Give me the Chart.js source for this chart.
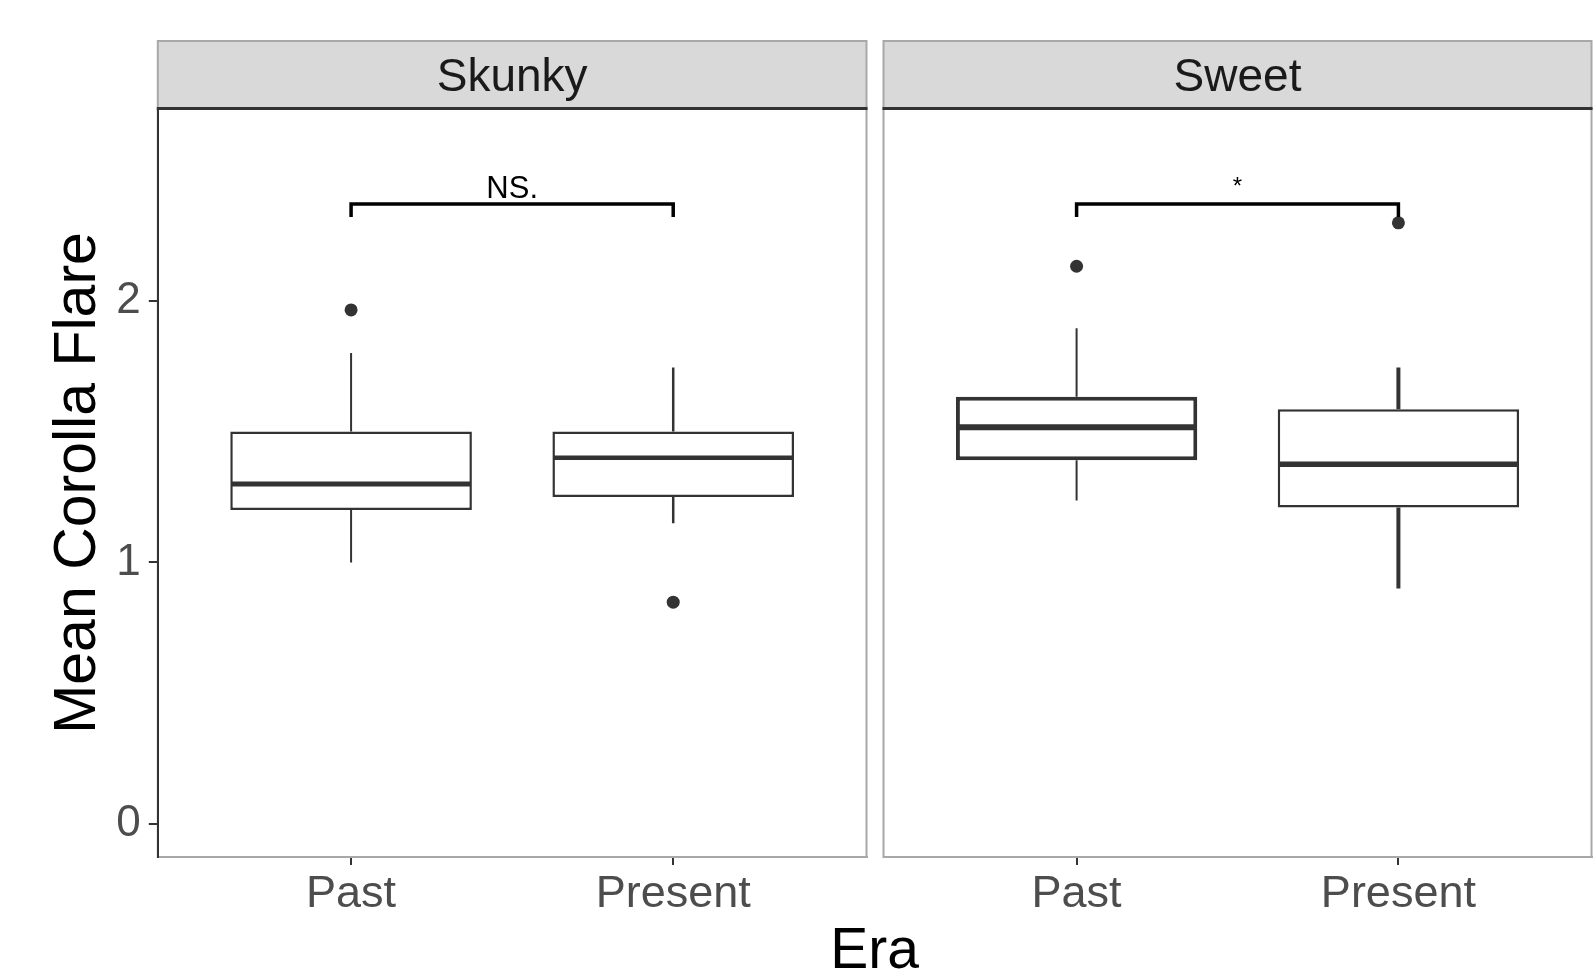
<!DOCTYPE html>
<html>
<head>
<meta charset="utf-8">
<script src="https://cdn.jsdelivr.net/npm/chart.js@4"></script>
<style>
  html, body { margin: 0; padding: 0; background: #ffffff; }
  #wrap { position: relative; width: 1596px; height: 970px; overflow: hidden; }
  canvas { position: absolute; top: 0; }
  #era { position: absolute; left: 774.5px; top: 920px; width: 200px; text-align: center;
         font-family: "Liberation Sans", Arial, sans-serif; font-size: 57px; line-height: 57px; color: #000; }
</style>
</head>
<body>
<div id="wrap">
  <canvas id="cSkunky" width="873" height="970" style="left:0px;width:873px;height:970px"></canvas>
  <canvas id="cSweet" width="728" height="970" style="left:870px;width:728px;height:970px"></canvas>
  <div id="era">Era</div>
</div>
<script>
// ---------------- data ----------------
const eras = ['Past', 'Present'];
const facetNames = ['Skunky', 'Sweet'];
const yTicks = [0, 1, 2];
const yLimits = [-0.126, 2.733];

const skunkyLow     = [1.00, 1.15];
const skunkyQ1      = [1.20, 1.25];
const skunkyMedian  = [1.30, 1.40];
const skunkyQ3      = [1.50, 1.50];
const skunkyHigh    = [1.80, 1.745];
const skunkyOutlier = [1.965, 0.848];

const sweetLow      = [1.237, 0.90];
const sweetQ1       = [1.39, 1.21];
const sweetMedian   = [1.517, 1.375];
const sweetQ3       = [1.633, 1.585];
const sweetHigh     = [1.895, 1.745];
const sweetOutlier  = [2.132, 2.298];

const sigLabels   = ['NS.', '*'];
const bracketTop  = [2.37, 2.37];
const bracketFoot = [2.32, 2.32];

// ---------------- drawing ----------------
const FONT = '"Liberation Sans", Arial, Helvetica, sans-serif';
Chart.defaults.font.family = FONT;

function makePanel(opts) {
  const { canvasId, idx, low, q1, med, q3, high, outl, showY, padLeft, padRight, boxW, whiskW, medW } = opts;

  const plugin = {
    id: 'facet' + idx,
    beforeDraw(chart) {
      const { ctx, chartArea: a } = chart;
      const w = a.right - a.left;
      ctx.save();
      // strip
      ctx.fillStyle = '#d9d9d9';
      ctx.fillRect(a.left, 41, w, a.top - 41);
      ctx.strokeStyle = '#a8a8a8';
      ctx.lineWidth = 2;
      ctx.strokeRect(a.left, 41, w, a.top - 41);
      // panel border
      ctx.strokeRect(a.left, a.top, w, a.bottom - a.top);
      // strip bottom line
      ctx.fillStyle = '#333333';
      ctx.fillRect(a.left - 1, a.top - 2, w + 2, 3);
      // strip text
      ctx.fillStyle = '#1a1a1a';
      ctx.font = '46px ' + FONT;
      ctx.textAlign = 'center';
      ctx.textBaseline = 'alphabetic';
      ctx.fillText(facetNames[idx], (a.left + a.right) / 2, 91);
      ctx.restore();
    },
    afterDatasetsDraw(chart) {
      const { ctx } = chart;
      const xs = chart.scales.x, ys = chart.scales.y;
      const meta = chart.getDatasetMeta(0);
      ctx.save();
      ctx.strokeStyle = '#333333';
      ctx.lineCap = 'butt';
      eras.forEach((e, i) => {
        const el = meta.data[i];
        const { x, width } = el.getProps(['x', 'width'], true);
        // whiskers
        ctx.lineWidth = whiskW[i];
        ctx.beginPath();
        ctx.moveTo(x, ys.getPixelForValue(q3[i]));
        ctx.lineTo(x, ys.getPixelForValue(high[i]));
        ctx.moveTo(x, ys.getPixelForValue(q1[i]));
        ctx.lineTo(x, ys.getPixelForValue(low[i]));
        ctx.stroke();
        // median
        ctx.lineWidth = medW[i];
        ctx.beginPath();
        const my = ys.getPixelForValue(med[i]);
        ctx.moveTo(x - width / 2 + 1, my);
        ctx.lineTo(x + width / 2 - 1, my);
        ctx.stroke();
      });
      // significance bracket
      const x1 = xs.getPixelForValue(1), x2 = xs.getPixelForValue(2);
      const yt = ys.getPixelForValue(bracketTop[idx]);
      const yf = ys.getPixelForValue(bracketFoot[idx]);
      ctx.strokeStyle = '#000000';
      ctx.lineWidth = 3.5;
      ctx.beginPath();
      ctx.moveTo(x1, yf);
      ctx.lineTo(x1, yt);
      ctx.lineTo(x2, yt);
      ctx.lineTo(x2, yf);
      ctx.stroke();
      ctx.fillStyle = '#000000';
      ctx.font = (idx === 0 ? '31px ' : '24px ') + FONT;
      ctx.textAlign = 'center';
      ctx.textBaseline = 'alphabetic';
      ctx.fillText(sigLabels[idx], (x1 + x2) / 2, yt - (idx === 0 ? 6 : 10));
      ctx.restore();
    }
  };

  return new Chart(document.getElementById(canvasId), {
    type: 'bar',
    data: {
      datasets: [
        {
          type: 'bar',
          data: eras.map((e, i) => ({ x: i + 1, y: [q1[i], q3[i]] })),
          backgroundColor: '#ffffff',
          borderColor: '#333333',
          borderWidth: boxW,
          borderSkipped: false,
          barPercentage: 0.75,
          categoryPercentage: 1.0
        },
        {
          type: 'scatter',
          data: eras.map((e, i) => ({ x: i + 1, y: outl[i] })),
          backgroundColor: '#333333',
          borderColor: '#333333',
          pointRadius: 6.5,
          pointBorderWidth: 0,
          showLine: false
        }
      ]
    },
    options: {
      responsive: false,
      animation: false,
      devicePixelRatio: 1,
      layout: { padding: { top: 109, left: padLeft, right: padRight, bottom: 0 } },
      plugins: { legend: { display: false }, tooltip: { enabled: false } },
      scales: {
        x: {
          type: 'linear',
          offset: false,
          min: 0.4, max: 2.6,
          afterBuildTicks: s => { s.ticks = eras.map((e, i) => ({ value: i + 1 })); },
          afterFit: s => { s.height = 113; s.paddingLeft = 0; s.paddingRight = 0; },
          ticks: { font: { size: 45 }, color: '#4d4d4d', padding: 3, autoSkip: false, maxRotation: 0,
                   callback: v => eras[Math.round(v) - 1] },
          grid: { offset: false, drawOnChartArea: false, drawTicks: true, tickLength: 8, color: '#333333', lineWidth: 2 },
          border: { display: true, color: '#a8a8a8', width: 2 }
        },
        y: {
          type: 'linear',
          display: showY,
          min: yLimits[0], max: yLimits[1],
          afterBuildTicks: s => { s.ticks = yTicks.map(v => ({ value: v })); },
          afterFit: s => { if (showY) s.width = 157.8; },
          ticks: { font: { size: 44 }, color: '#4d4d4d', padding: 8, callback: v => String(v) },
          grid: { drawOnChartArea: false, drawTicks: true, tickLength: 9, color: '#333333', lineWidth: 2 },
          border: { display: true, color: '#333333', width: 2 },
          title: { display: true, text: 'Mean Corolla Flare', color: '#000000', font: { size: 59 },
                   padding: { top: 43, bottom: 0 } }
        }
      }
    },
    plugins: [plugin]
  });
}

makePanel({
  canvasId: 'cSkunky', idx: 0,
  low: skunkyLow, q1: skunkyQ1, med: skunkyMedian, q3: skunkyQ3, high: skunkyHigh, outl: skunkyOutlier,
  showY: true, padLeft: 0, padRight: 0,
  boxW: [2.5, 2.5], whiskW: [2, 2.5], medW: [5, 4.5]
});
makePanel({
  canvasId: 'cSweet', idx: 1,
  low: sweetLow, q1: sweetQ1, med: sweetMedian, q3: sweetQ3, high: sweetHigh, outl: sweetOutlier,
  showY: false, padLeft: 13.5, padRight: 0,
  boxW: [4, 2.5], whiskW: [2, 4], medW: [6, 5.5]
});
</script>
</body>
</html>
